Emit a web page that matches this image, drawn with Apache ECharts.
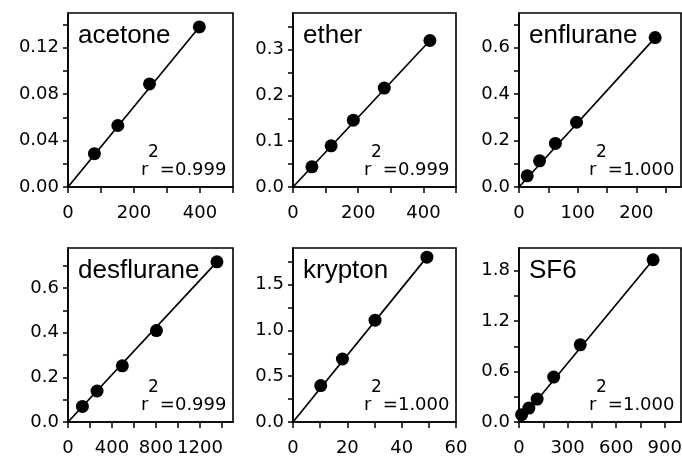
<!DOCTYPE html>
<html>
<head>
<meta charset="utf-8">
<script src="https://cdn.jsdelivr.net/npm/echarts@6/dist/echarts.min.js"></script>
<style>html,body{margin:0;padding:0;background:#fff}#c{width:682px;height:460px}</style>
</head>
<body>
<div id="c"></div>
<script>
// ---- data ----
const panelNames = ['acetone', 'ether', 'enflurane', 'desflurane', 'krypton', 'SF6'];
const r2Values = ['0.999', '0.999', '1.000', '0.999', '1.000', '1.000'];

const acetoneX = [80, 151, 247, 398];
const acetoneY = [0.0287, 0.053, 0.0889, 0.138];
const etherX = [58, 117, 185, 280, 420];
const etherY = [0.044, 0.090, 0.146, 0.216, 0.320];
const enfluraneX = [14, 35, 62, 98, 232];
const enfluraneY = [0.048, 0.113, 0.188, 0.279, 0.644];
const desfluraneX = [131, 264, 494, 804, 1354];
const desfluraneY = [0.070, 0.139, 0.252, 0.410, 0.718];
const kryptonX = [10.2, 18.2, 30.2, 49.3];
const kryptonY = [0.398, 0.688, 1.112, 1.800];
const sf6X = [16, 61, 112, 214, 378, 828];
const sf6Y = [0.087, 0.166, 0.273, 0.535, 0.918, 1.93];

// fitted lines (end points)
const acetoneFit = [[0, 0], [398, 0.138]];
const etherFit = [[0, 0], [420, 0.320]];
const enfluraneFit = [[0, 0], [232, 0.644]];
const desfluraneFit = [[0, 0], [1354, 0.718]];
const kryptonFit = [[0, 0], [49.3, 1.800]];
const sf6Fit = [[0, 0], [828, 1.93]];

// axes
const xMax = [500, 500, 276, 1500, 60, 1000];
const yMax = [0.15, 0.38, 0.75, 0.78, 1.9, 2.07];
const xTicks = [
  [0, 100, 200, 300, 400, 500],
  [0, 100, 200, 300, 400, 500],
  [0, 50, 100, 150, 200, 250],
  [0, 200, 400, 600, 800, 1000, 1200, 1400],
  [0, 10, 20, 30, 40, 50, 60],
  [0, 150, 300, 450, 600, 750, 900]
];
const xLabels = [
  [0, 200, 400],
  [0, 200, 400],
  [0, 100, 200],
  [0, 400, 800, 1200],
  [0, 20, 40, 60],
  [0, 300, 600, 900]
];
const yTicks = [
  [0, 0.02, 0.04, 0.06, 0.08, 0.10, 0.12, 0.14],
  [0, 0.05, 0.1, 0.15, 0.2, 0.25, 0.3, 0.35],
  [0, 0.1, 0.2, 0.3, 0.4, 0.5, 0.6, 0.7],
  [0, 0.1, 0.2, 0.3, 0.4, 0.5, 0.6, 0.7],
  [0, 0.25, 0.5, 0.75, 1.0, 1.25, 1.5, 1.75],
  [0, 0.3, 0.6, 0.9, 1.2, 1.5, 1.8]
];
const yLabels = [
  [0, 0.04, 0.08, 0.12],
  [0, 0.1, 0.2, 0.3],
  [0, 0.2, 0.4, 0.6],
  [0, 0.2, 0.4, 0.6],
  [0, 0.5, 1.0, 1.5],
  [0, 0.6, 1.2, 1.8]
];
const yDecimals = [2, 1, 1, 1, 1, 1];

// ---- layout ----
const xs = [acetoneX, etherX, enfluraneX, desfluraneX, kryptonX, sf6X];
const ys = [acetoneY, etherY, enfluraneY, desfluraneY, kryptonY, sf6Y];
const fits = [acetoneFit, etherFit, enfluraneFit, desfluraneFit, kryptonFit, sf6Fit];
const grids = [
  [68, 13, 165, 174], [293, 13, 163, 174], [519, 13, 162, 174],
  [68, 248, 165, 174], [293, 248, 163, 174], [519, 248, 162, 174]
];
const tickFont = 'DejaVu Sans';
const titleFont = 'Liberation Sans';

const option = {
  animation: false,
  backgroundColor: '#fff',
  grid: [], xAxis: [], yAxis: [], series: [], title: []
};

grids.forEach((g, i) => {
  option.grid.push({
    left: g[0], top: g[1], width: g[2], height: g[3],
    show: true, borderColor: '#000', borderWidth: 1.6,
    backgroundColor: 'transparent',
    containLabel: false, outerBoundsMode: 'none'
  });
  option.xAxis.push({
    type: 'value', gridIndex: i, min: 0, max: xMax[i],
    axisLine: { onZero: false, lineStyle: { color: '#000', width: 1.6 } },
    axisTick: { customValues: xTicks[i], length: 6, lineStyle: { color: '#000', width: 1.5 } },
    axisLabel: { customValues: xLabels[i], color: '#000', fontFamily: tickFont, fontSize: 18, margin: 17,
      formatter: v => String(v) },
    splitLine: { show: false }
  });
  const d = yDecimals[i];
  option.yAxis.push({
    type: 'value', gridIndex: i, min: 0, max: yMax[i],
    axisLine: { onZero: false, lineStyle: { color: '#000', width: 1.6 } },
    axisTick: { customValues: yTicks[i], length: 5, lineStyle: { color: '#000', width: 1.5 } },
    axisLabel: { customValues: yLabels[i], color: '#000', fontFamily: tickFont, fontSize: 18, margin: 9,
      formatter: v => Number(v).toFixed(d) },
    splitLine: { show: false }
  });
  option.series.push({
    type: 'line', xAxisIndex: i, yAxisIndex: i, data: fits[i],
    symbol: 'none', lineStyle: { color: '#000', width: 1.7 }, z: 2, silent: true
  });
  option.series.push({
    type: 'scatter', xAxisIndex: i, yAxisIndex: i,
    data: xs[i].map((x, k) => [x, ys[i][k]]),
    symbolSize: 13, itemStyle: { color: '#000', opacity: 1 }, z: 3
  });
  const right = g[0] + g[2];
  const bottom = g[1] + g[3];
  option.title.push({
    text: panelNames[i], left: g[0] + 10, top: g[1] + 10, padding: 0,
    textStyle: { fontFamily: titleFont, fontSize: 26, fontWeight: 'normal', color: '#000' }
  });
  option.title.push({
    text: '2', left: right - 85, top: bottom - 43, padding: 0,
    textStyle: { fontFamily: tickFont, fontSize: 17, fontWeight: 'normal', color: '#000' }
  });
  option.title.push({
    text: 'r  =' + r2Values[i], left: right - 92, top: bottom - 26, padding: 0,
    textStyle: { fontFamily: tickFont, fontSize: 18, fontWeight: 'normal', color: '#000' }
  });
});

const chart = echarts.init(document.getElementById('c'), null, { renderer: 'canvas' });
chart.setOption(option);
</script>
</body>
</html>
